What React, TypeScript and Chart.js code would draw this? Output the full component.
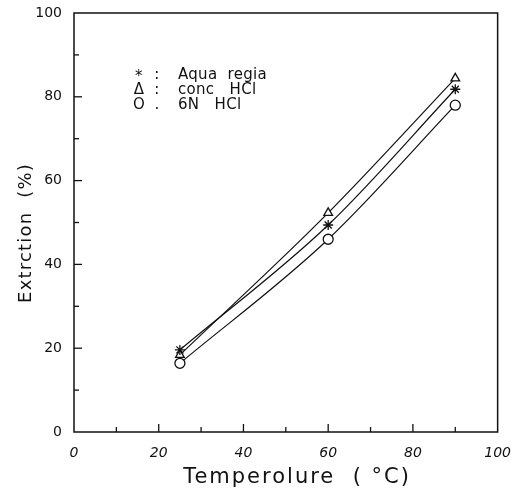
import React, { useEffect, useRef } from "react";
import { Chart, registerables } from "chart.js";

Chart.register(...registerables);

const temperatures = [25, 60, 90];
const aquaRegia = [19.6, 49.4, 81.8];
const concHCl = [18.4, 52.3, 84.4];
const sixNHCl = [16.4, 46.0, 78.0];
const xTicks = [0, 20, 40, 60, 80, 100];
const yTicks = [0, 20, 40, 60, 80, 100];
const legendSymbols = ["*", "\u0394", "O"];
const legendSeps = [":", ":", "."];
const legendLabels = ["Aqua  regia", "conc   HCl", "6N   HCl"];
const xTitle = "Temperolure  ( \u00B0C)";
const yTitle = "Extrction  (%)";

const FONT = "'DejaVu Sans', sans-serif";

const framePlugin = {
  id: "frameTicks",
  afterDraw(chart: any) {
    const { ctx, chartArea } = chart;
    const xs = chart.scales.x;
    const ys = chart.scales.y;
    ctx.save();
    ctx.strokeStyle = "#111";
    ctx.lineWidth = 1.5;
    ctx.strokeRect(chartArea.left, chartArea.top, chartArea.right - chartArea.left, chartArea.bottom - chartArea.top);
    ctx.lineWidth = 1.3;
    for (let v = 10; v < 100; v += 10) {
      const len = v % 20 === 0 ? 8 : 5;
      const px = xs.getPixelForValue(v);
      ctx.beginPath();
      ctx.moveTo(px, chartArea.bottom);
      ctx.lineTo(px, chartArea.bottom - len);
      ctx.stroke();
      const py = ys.getPixelForValue(v);
      ctx.beginPath();
      ctx.moveTo(chartArea.left, py);
      ctx.lineTo(chartArea.left + len, py);
      ctx.stroke();
    }
    ctx.fillStyle = "#111";
    ctx.textBaseline = "middle";
    // legend text
    const rows = [75, 90, 105];
    (ctx as any).letterSpacing = "0.3px";
    for (let i = 0; i < legendLabels.length; i++) {
      ctx.font = `15px ${FONT}`;
      ctx.textAlign = "center";
      ctx.fillText(legendSymbols[i], 139, rows[i] + (i === 0 ? 2 : 0));
      ctx.fillText(legendSeps[i], 157, rows[i]);
      ctx.textAlign = "left";
      ctx.fillText(legendLabels[i], 178, rows[i]);
    }
    // axis titles
    ctx.textAlign = "center";
    (ctx as any).letterSpacing = "2px";
    ctx.font = `21px ${FONT}`;
    ctx.fillText(xTitle, 297, 478);
    (ctx as any).letterSpacing = "1.2px";
    ctx.font = `18px ${FONT}`;
    ctx.translate(26, 233);
    ctx.rotate(-Math.PI / 2);
    ctx.fillText(yTitle, 0, 0);
    ctx.restore();
  },
};

export default function App() {
  const ref = useRef<HTMLCanvasElement>(null);
  useEffect(() => {
    const canvas = ref.current!;
    const mk = (label: string, data: number[], style: any, radius: number, bg: string) => ({
      label,
      data: temperatures.map((t, i) => ({ x: t, y: data[i] })),
      borderColor: "#111",
      borderWidth: 1.2,
      pointStyle: style,
      pointRadius: radius,
      pointBorderColor: "#111",
      pointBorderWidth: 1.3,
      pointBackgroundColor: bg,
      backgroundColor: bg,
      cubicInterpolationMode: "monotone" as const,
      fill: false,
    });
    const chart = new Chart(canvas, {
      type: "line",
      data: {
        datasets: [
          mk("Aqua regia", aquaRegia, "star", 5, "#111"),
          mk("conc HCl", concHCl, "triangle", 5, "rgba(255,255,255,1)"),
          mk("6N HCl", sixNHCl, "circle", 5, "rgba(255,255,255,1)"),
        ],
      },
      options: {
        animation: false,
        responsive: false,
        layout: { padding: { top: 13, right: 17, left: 0, bottom: 0 } },
        plugins: { legend: { display: false }, tooltip: { enabled: false } },
        scales: {
          x: {
            type: "linear",
            min: 0,
            max: 100,
            afterFit: (s: any) => { s.height = 64; },
            afterBuildTicks: (s: any) => { s.ticks = xTicks.map((v) => ({ value: v })); },
            grid: { display: false },
            border: { display: false },
            ticks: { color: "#111", font: { family: FONT, size: 14, style: "italic" }, padding: 5, maxRotation: 0 },
            title: { display: false },
          },
          y: {
            type: "linear",
            min: 0,
            max: 100,
            afterFit: (s: any) => { s.width = 74; },
            afterBuildTicks: (s: any) => { s.ticks = yTicks.map((v) => ({ value: v })); },
            grid: { display: false },
            border: { display: false },
            ticks: { color: "#111", font: { family: FONT, size: 14 }, padding: 4 },
            title: { display: false },
          },
        },
      },
      plugins: [framePlugin],
    });
    return () => chart.destroy();
  }, []);
  return (
    <div style={{ position: "fixed", left: 0, top: 0, width: 516, height: 496, background: "#fff" }}>
      <canvas ref={ref} width={516} height={496} style={{ display: "block" }} />
    </div>
  );
}
